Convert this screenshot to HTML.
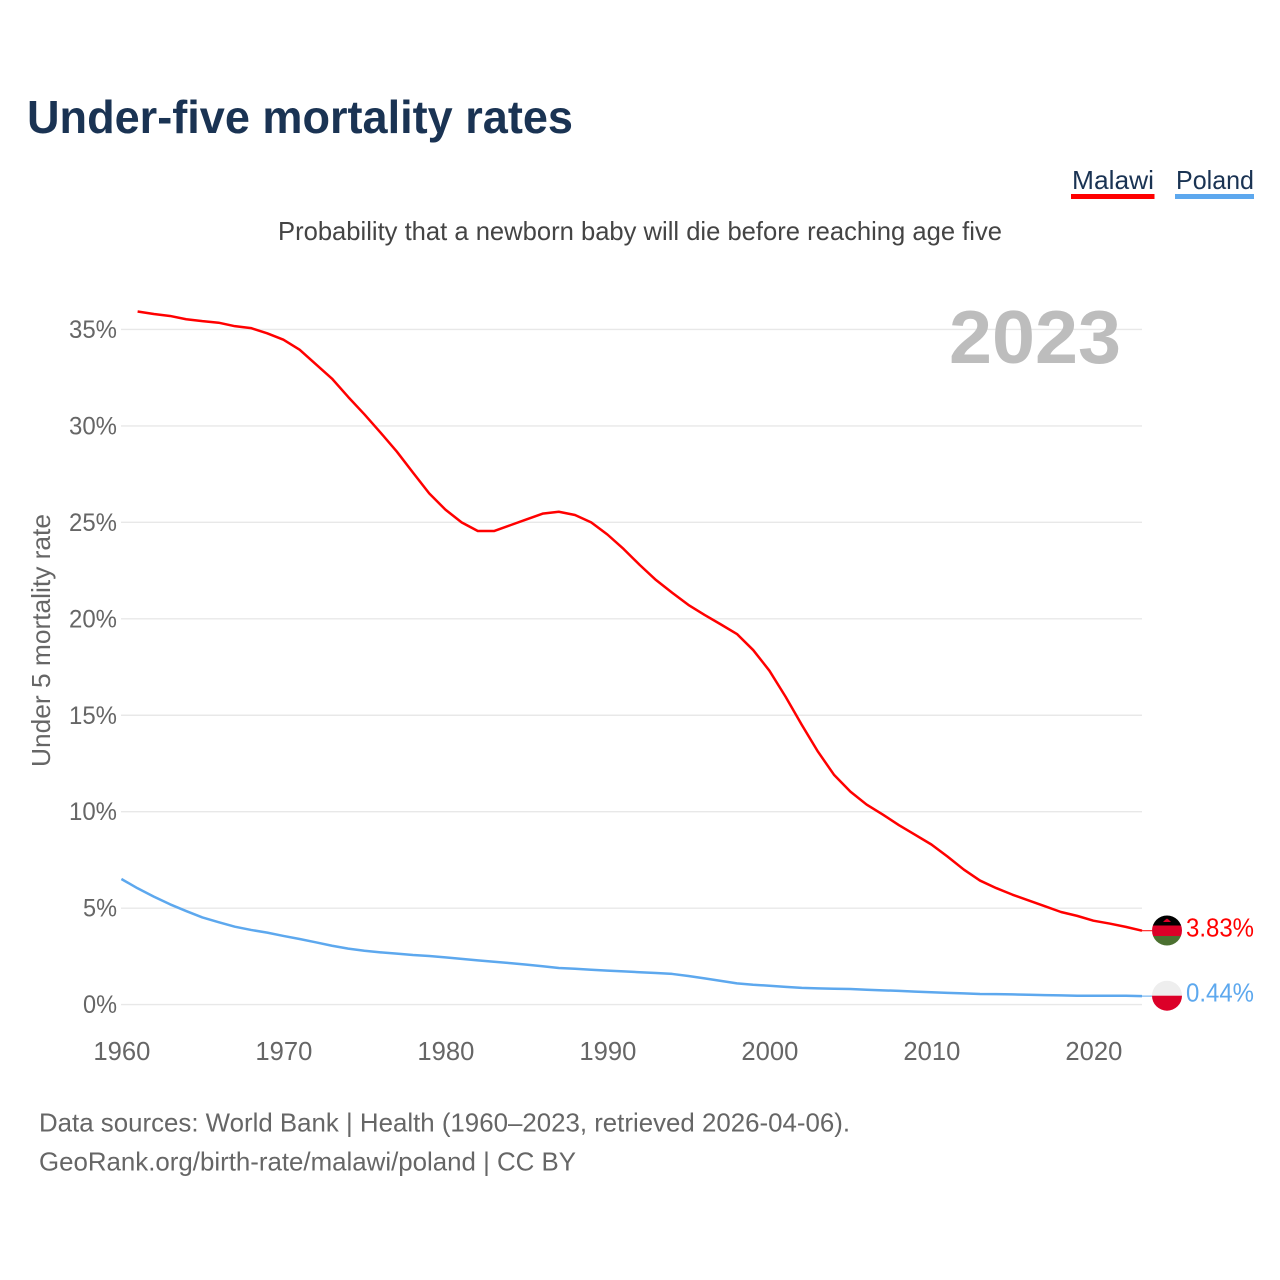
<!DOCTYPE html>
<html lang="en">
<head>
<meta charset="utf-8">
<title>Under-five mortality rates</title>
<style>
html,body{margin:0;padding:0;background:#fff;}
svg{display:block;}
text{font-family:"Liberation Sans",sans-serif;}
</style>
</head>
<body>
<svg id="chart" xmlns="http://www.w3.org/2000/svg" width="1280" height="1280" viewBox="0 0 1280 1280">
  <defs>
    <clipPath id="clip-mw"><circle cx="1167" cy="930.5" r="15"></circle></clipPath>
    <clipPath id="clip-pl"><circle cx="1167" cy="995.7" r="15"></circle></clipPath>
  </defs>
  <rect x="0" y="0" width="1280" height="1280" fill="#ffffff"></rect>
  <text x="27" y="133" font-size="46" font-weight="700" fill="#1a3353" textLength="546" lengthAdjust="spacingAndGlyphs">Under-five mortality rates</text>
  <g>
    <g style="cursor:pointer">
      <text x="1072" y="189" font-size="26" fill="#1a3353" textLength="82" lengthAdjust="spacingAndGlyphs">Malawi</text>
      <rect x="1071" y="194" width="83.5" height="5" fill="#ff0000"></rect>
    </g>
    <g style="cursor:pointer">
      <text x="1176" y="189" font-size="26" fill="#1a3353" textLength="78" lengthAdjust="spacingAndGlyphs">Poland</text>
      <rect x="1175" y="194" width="79" height="5" fill="#5da8ee"></rect>
    </g>
  </g>
  <text x="278" y="240" font-size="26" fill="#444444" textLength="724" lengthAdjust="spacingAndGlyphs">Probability that a newborn baby will die before reaching age five</text>
  <g id="grid"></g>
  <g id="y-ticks"></g>
  <g id="x-ticks"></g>
  <text transform="translate(50,767) rotate(-90)" x="0" y="0" font-size="26" fill="#666666" textLength="253" lengthAdjust="spacingAndGlyphs">Under 5 mortality rate</text>
  <text x="949" y="363" font-size="75" font-weight="700" fill="#bdbdbd" textLength="172" lengthAdjust="spacingAndGlyphs">2023</text>
  <g id="series"></g>
  <g clip-path="url(#clip-mw)">
    <rect x="1150" y="915" width="34" height="10.5" fill="#000000"></rect>
    <rect x="1150" y="925.5" width="34" height="10.5" fill="#dc0028"></rect>
    <rect x="1150" y="936" width="34" height="11" fill="#4b7030"></rect>
    <path d="M1163 922 L1165 920 L1167 918.5 L1169 920 L1171 922 Z" fill="#dc0028"></path>
  </g>
  <g clip-path="url(#clip-pl)">
    <rect x="1150" y="980" width="34" height="15.7" fill="#eeeeee"></rect>
    <rect x="1150" y="995.7" width="34" height="16" fill="#dc0028"></rect>
  </g>
  <text x="1186" y="936.5" font-size="26" fill="#ff0000" textLength="68" lengthAdjust="spacingAndGlyphs">3.83%</text>
  <text x="1186" y="1001.5" font-size="26" fill="#5da8ee" textLength="68" lengthAdjust="spacingAndGlyphs">0.44%</text>
  <text x="39" y="1131.5" font-size="26" fill="#666666" textLength="811" lengthAdjust="spacingAndGlyphs">Data sources: World Bank | Health (1960–2023, retrieved 2026-04-06).</text>
  <text x="39" y="1170.5" font-size="26" fill="#666666" textLength="537" lengthAdjust="spacingAndGlyphs">GeoRank.org/birth-rate/malawi/poland | CC BY</text>
</svg>
<script>
const yTickValues = [0, 5, 10, 15, 20, 25, 30, 35];
const xTickYears = [1960, 1970, 1980, 1990, 2000, 2010, 2020];
const malawiStartYear = 1961;
const malawiValues = [35.93, 35.8, 35.7, 35.53, 35.43, 35.35, 35.17, 35.07, 34.8, 34.47, 33.95, 33.2, 32.45, 31.5, 30.6, 29.65, 28.67, 27.58, 26.5, 25.66, 25.0, 24.55, 24.55, 24.85, 25.15, 25.45, 25.55, 25.38, 25.0, 24.37, 23.62, 22.79, 22.01, 21.35, 20.72, 20.2, 19.71, 19.21, 18.38, 17.31, 15.96, 14.5, 13.11, 11.9, 11.04, 10.37, 9.85, 9.3, 8.8, 8.3, 7.67, 7.0, 6.43, 6.04, 5.7, 5.4, 5.1, 4.8, 4.6, 4.35, 4.2, 4.03, 3.83];
const polandStartYear = 1960;
const polandValues = [6.51, 6.03, 5.6, 5.2, 4.85, 4.52, 4.27, 4.04, 3.87, 3.73, 3.56, 3.4, 3.23, 3.05, 2.9, 2.79, 2.71, 2.64, 2.57, 2.52, 2.45, 2.37, 2.29, 2.22, 2.15, 2.07, 1.99, 1.9, 1.86, 1.81, 1.76, 1.72, 1.68, 1.64, 1.59, 1.48, 1.36, 1.23, 1.1, 1.03, 0.98, 0.92, 0.87, 0.84, 0.82, 0.81, 0.77, 0.74, 0.71, 0.67, 0.64, 0.61, 0.58, 0.55, 0.54, 0.53, 0.51, 0.49, 0.48, 0.46, 0.46, 0.46, 0.46, 0.44];

const SVG_NS = 'http://www.w3.org/2000/svg';
function xScale(year) { return 121.4 + (year - 1960) * 16.2; }
function yScale(value) { return 1004.6 - value * 19.29; }
function make(tag, attrs, text) {
  const el = document.createElementNS(SVG_NS, tag);
  for (const k in attrs) el.setAttribute(k, attrs[k]);
  if (text !== undefined) el.textContent = text;
  return el;
}
const gridGroup = document.getElementById('grid');
const yGroup = document.getElementById('y-ticks');
const xGroup = document.getElementById('x-ticks');
const seriesGroup = document.getElementById('series');

yTickValues.forEach(function (v) {
  const line = make('line', { x1: 121, x2: 1142, y1: yScale(v), y2: yScale(v), stroke: '#e8e8e8', 'stroke-width': 1.4 });
  
  
  gridGroup.appendChild(line);
  const label = v + '%';
  const t = make('text', { x: 117, y: yScale(v) + 8.5, 'text-anchor': 'end', 'font-size': 25, fill: '#666666', textLength: (label.length - 1) * 14 + 20, lengthAdjust: 'spacingAndGlyphs' }, label);
  
  
  yGroup.appendChild(t);
});

xTickYears.forEach(function (y) {
  const t = make('text', { x: xScale(y) + 0.5, y: 1060, 'text-anchor': 'middle', 'font-size': 25.6, fill: '#666666' }, String(y));
  
  
  xGroup.appendChild(t);
});

function linePath(startYear, values) {
  return values.map(function (v, i) {
    return (i ? 'L' : 'M') + xScale(startYear + i).toFixed(2) + ' ' + yScale(v).toFixed(2);
  }).join(' ');
}
function leader(values) {
  return yScale(values[values.length - 1]);
}

const polandLine = make('path', { d: linePath(polandStartYear, polandValues), fill: 'none', stroke: '#5da8ee', 'stroke-width': 2.5, 'stroke-linejoin': 'round' });


seriesGroup.appendChild(polandLine);

const malawiLine = make('path', { d: linePath(malawiStartYear, malawiValues), fill: 'none', stroke: '#ff0000', 'stroke-width': 2.5, 'stroke-linejoin': 'round' });


seriesGroup.appendChild(malawiLine);

const malawiLeader = make('line', { x1: xScale(2023), x2: 1152, y1: leader(malawiValues), y2: leader(malawiValues), stroke: '#ff0000', 'stroke-width': 1 });


seriesGroup.appendChild(malawiLeader);

const polandLeader = make('line', { x1: xScale(2023), x2: 1152, y1: leader(polandValues), y2: leader(polandValues), stroke: '#5da8ee', 'stroke-width': 1 });


seriesGroup.appendChild(polandLeader);
</script>
</body>
</html>
